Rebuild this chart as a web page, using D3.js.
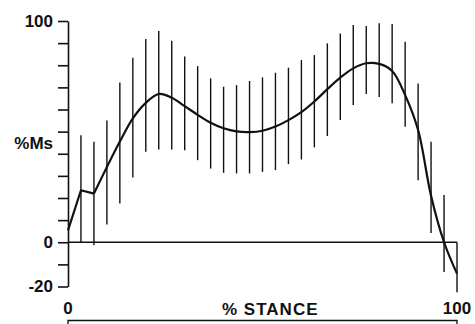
<!DOCTYPE html>
<html>
<head>
<meta charset="utf-8">
<script src="https://cdn.jsdelivr.net/npm/d3@7"></script>
<style>
  body { margin: 0; background: #fff; }
  svg { display: block; }
  text { font-family: "Liberation Sans", Arial, sans-serif; fill: #111; }
</style>
</head>
<body>
<svg id="chart" width="475" height="324"></svg>
<script>
// % of stance at which each sample was taken
const stancePct = [0, 3.33, 6.67, 10, 13.33, 16.67, 20, 23.33, 26.67, 30, 33.33,
  36.67, 40, 43.33, 46.67, 50, 53.33, 56.67, 60, 63.33, 66.67,
  70, 73.33, 76.67, 80, 83.33, 86.67, 90, 93.33, 96.67, 100];

// mean %Ms curve
const meanMs = [5.4, 23.5, 22, 34, 45.5, 56, 63, 67, 65.3, 61.5, 57.6,
  54, 51.5, 50.1, 49.8, 50.4, 52.3, 55.2, 58.8, 63.6, 69.2,
  74.4, 78.6, 80.9, 80.6, 77.4, 66.5, 50.7, 21, 0, -14.2];

// error bar ends (no bar at 0%)
const upperMs = [null, 48.4, 45.4, 55, 72.2, 83.4, 91.9, 95.5, 91.1, 83.9, 79.6,
  74.1, 70.3, 71, 72.9, 74.5, 76.6, 78.9, 82.4, 84.6, 89.9,
  94.4, 98.2, 97.7, 99, 98.6, 90.6, 71.8, 45.4, 21.3, 0];
const lowerMs = [null, 0, -1.4, 8, 17.5, 29.3, 40.9, 41.9, 41.9, 41.6, 37.1,
  33.3, 31.4, 31.1, 31.1, 31.8, 32.6, 35.3, 37.4, 42.9, 48,
  55.2, 62, 67, 65.7, 62.8, 52.2, 28, 4.2, -13.4, -22.6];

const yTickValues = [-20, -10, 0, 10, 20, 30, 40, 50, 60, 70, 80, 90, 100];
const yTickLabels = { "-20": "-20", "0": "0", "100": "100" };
const xTickValues = [0, 100];

const svg = d3.select('#chart');

let xScale = d3.scaleLinear()
  .domain([0, 100])
  .range([68, 457]);

let yScale = d3.scaleLinear()
  .domain([-20, 100])
  .range([286.5, 21]);

// y axis, ticks pointing left, only a few labelled
let yAxis = d3.axisLeft(yScale)
  .tickValues(yTickValues)
  .tickSize(10)
  .tickSizeOuter(0)
  .tickPadding(5)
  .tickFormat(d => yTickLabels[String(d)] || '');

let yG = svg.append('g')
  .attr('transform', `translate(${xScale(0)}, 0)`)
  .call(yAxis);
yG.selectAll('path, line').attr('stroke', '#111').attr('stroke-width', 1.6);
yG.selectAll('text')
  .attr('font-size', 17)
  .attr('font-weight', 'bold')
  .style('font-family', '"Liberation Sans", Arial, sans-serif');

svg.append('text')
  .attr('x', 53)
  .attr('y', yScale(45) + 6)
  .attr('text-anchor', 'end')
  .attr('font-size', 17)
  .attr('font-weight', 'bold')
  .text('%Ms');

// zero line
svg.append('line')
  .attr('x1', xScale(0)).attr('x2', xScale(100))
  .attr('y1', yScale(0)).attr('y2', yScale(0))
  .attr('stroke', '#111')
  .attr('stroke-width', 1.4);

// x labels
svg.selectAll('.xlab')
  .data(xTickValues)
  .enter()
  .append('text')
    .attr('class', 'xlab')
    .attr('x', d => xScale(d))
    .attr('y', 314)
    .attr('text-anchor', 'middle')
    .attr('font-size', 17)
    .attr('font-weight', 'bold')
    .text(d => d);

svg.append('text')
  .attr('x', xScale(52))
  .attr('y', 315)
  .attr('text-anchor', 'middle')
  .attr('font-size', 17)
  .attr('font-weight', 'bold')
  .attr('letter-spacing', 1)
  .text('% STANCE');

// bracket under the stance label
svg.append('path')
  .attr('d', `M${xScale(0)},326 V320.5 H${xScale(100)} V326`)
  .attr('fill', 'none')
  .attr('stroke', '#111')
  .attr('stroke-width', 1.3);

// error bars
let samples = stancePct.map((p, i) => ({ p: p, mean: meanMs[i], hi: upperMs[i], lo: lowerMs[i] }));

svg.append('g')
  .selectAll('line')
  .data(samples.filter(d => d.hi !== null))
  .enter()
  .append('line')
    .attr('x1', d => xScale(d.p))
    .attr('x2', d => xScale(d.p))
    .attr('y1', d => yScale(d.hi))
    .attr('y2', d => yScale(d.lo))
    .attr('stroke', '#111')
    .attr('stroke-width', 1.4);

// mean curve: straight start, smooth after
let lineStart = d3.line()
  .x(d => xScale(d.p))
  .y(d => yScale(d.mean));
let lineSmooth = d3.line()
  .curve(d3.curveCatmullRom.alpha(0.5))
  .x(d => xScale(d.p))
  .y(d => yScale(d.mean));

svg.append('path')
  .attr('d', lineStart(samples.slice(0, 3)))
  .attr('fill', 'none')
  .attr('stroke', '#111')
  .attr('stroke-width', 2.2)
  .attr('stroke-linejoin', 'round');

svg.append('path')
  .attr('d', lineSmooth(samples.slice(2)))
  .attr('fill', 'none')
  .attr('stroke', '#111')
  .attr('stroke-width', 2.2)
  .attr('stroke-linejoin', 'round');
</script>
</body>
</html>
